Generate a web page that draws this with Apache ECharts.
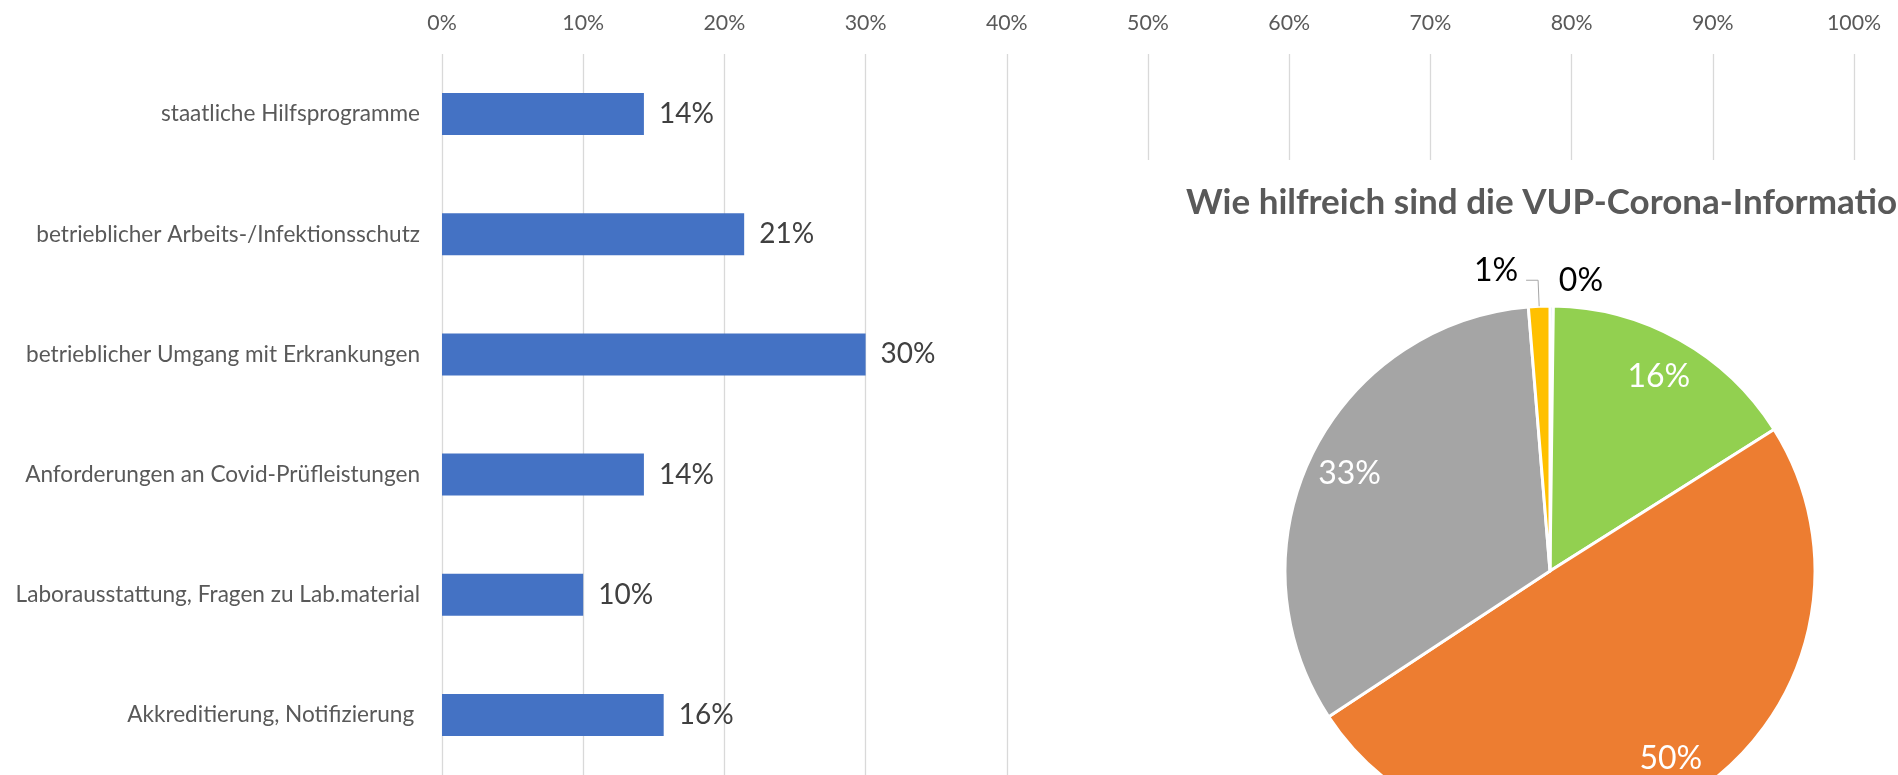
<!DOCTYPE html>
<html>
<head>
<meta charset="utf-8">
<script src="https://cdn.jsdelivr.net/npm/echarts@6/dist/echarts.min.js"></script>
<style>
html,body{margin:0;padding:0;background:#fff;}
#chart{width:1898px;height:775px;}
</style>
</head>
<body>
<div id="chart"></div>
<script>
// ---- Data ----
const barCategories = [
  'staatliche Hilfsprogramme',
  'betrieblicher Arbeits-/Infektionsschutz',
  'betrieblicher Umgang mit Erkrankungen',
  'Anforderungen an Covid-Prüfleistungen',
  'Laborausstattung, Fragen zu Lab.material',
  'Akkreditierung, Notifizierung '
];
const barValues = [14.3, 21.4, 30.0, 14.3, 10.0, 15.7];
const xTickMin = 0, xTickMax = 100, xTickStep = 10;

const pieTitle = 'Wie hilfreich sind die VUP-Corona-Informationen?';
// clockwise from 12 o'clock
const pieValues = [0.2, 15.8, 49.6, 32.9, 1.3];
const pieColors = ['#5B9BD5', '#92D050', '#ED7D31', '#A5A5A5', '#FFC000'];

// ---- Chart ----
const FONT = 'Lato, "Noto Sans", sans-serif';
const chart = echarts.init(document.getElementById('chart'), null, {renderer: 'canvas'});

const pctFmt = v => Math.round(v) + '%';

const pieCenter = [1550, 571];
const pieR = 265;

const mainPieData = pieValues.map((v, i) => ({
  value: v,
  itemStyle: {color: pieColors[i]}
}));

const labelPieData = pieValues.map((v, i) => {
  const d = {value: v};
  if (i === 0) {
    d.label = {show: true, position: 'outside', color: '#000000', fontSize: 32, distanceToLabelLine: 4};
    d.labelLine = {show: false, length: 25, length2: 3};
  } else if (i === 4) {
    d.label = {show: true, position: 'outside', color: '#000000', fontSize: 32,
               distanceToLabelLine: 8, offset: [0, -10]};
    d.labelLine = {show: true, length: 26, length2: 12, lineStyle: {color: '#A6A6A6', width: 1}};
  }
  return d;
});

chart.setOption({
  animation: false,
  backgroundColor: '#ffffff',
  textStyle: {fontFamily: FONT},
  grid: {left: 442, top: 54, width: 1412, height: 725, containLabel: false},
  xAxis: {
    type: 'value', position: 'top',
    min: xTickMin, max: xTickMax, interval: xTickStep,
    axisLine: {show: false}, axisTick: {show: false},
    axisLabel: {formatter: '{value}%', color: '#595959', fontSize: 21.3, fontFamily: FONT, margin: 20},
    splitLine: {show: true, lineStyle: {color: '#D9D9D9', width: 1.3}}
  },
  yAxis: {
    type: 'category', inverse: true, data: barCategories,
    axisLine: {show: false}, axisTick: {show: false},
    axisLabel: {color: '#595959', fontSize: 22.6, fontFamily: FONT, margin: 22}
  },
  graphic: [
    {type: 'rect', z: 1, left: 1100, top: 160, shape: {width: 800, height: 620}, style: {fill: '#ffffff'}},
    {type: 'text', z: 3, left: 1186, top: 185, style: {
      text: pieTitle, fill: '#595959', font: 'bold 35px ' + FONT
    }}
  ],
  series: [
    {
      type: 'bar', data: barValues, barWidth: 42,
      itemStyle: {color: '#4472C4'},
      label: {show: true, position: 'right', distance: 15, formatter: p => pctFmt(p.value),
              color: '#404040', fontSize: 28, fontFamily: FONT},
      z: 2
    },
    {
      type: 'pie', center: pieCenter, radius: [0, pieR], startAngle: 90, clockwise: true,
      data: mainPieData, silent: true, z: 3,
      itemStyle: {borderColor: '#ffffff', borderWidth: 3},
      label: {show: false}, labelLine: {show: false}
    },
    {
      type: 'pie', center: pieCenter, radius: [pieR * 0.66, pieR], startAngle: 90, clockwise: true,
      data: labelPieData, silent: true, z: 4, avoidLabelOverlap: false,
      itemStyle: {color: 'rgba(0,0,0,0)', borderWidth: 0},
      label: {show: true, position: 'inside', formatter: p => pctFmt(p.value),
              color: '#ffffff', fontSize: 32, fontFamily: FONT},
      labelLine: {show: false}
    }
  ]
});
</script>
</body>
</html>
